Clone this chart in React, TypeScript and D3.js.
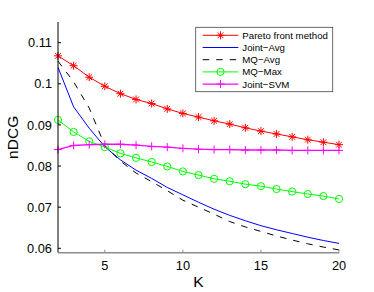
import { useMemo } from 'react';
import * as d3 from 'd3';

const kValues = [2, 3, 4, 5, 6, 7, 8, 9, 10, 11, 12, 13, 14, 15, 16, 17, 18, 19, 20];
const paretoFront = [0.1068, 0.1044, 0.1016, 0.0994, 0.0976, 0.0962, 0.0952, 0.0939, 0.0928, 0.0919, 0.091, 0.0902, 0.0893, 0.0885, 0.0878, 0.0871, 0.0864, 0.0858, 0.0852];
const jointAvg = [0.104, 0.0944, 0.0892, 0.0847, 0.0815, 0.079, 0.077, 0.0748, 0.073, 0.0712, 0.0695, 0.068, 0.0667, 0.0655, 0.0645, 0.0636, 0.0627, 0.0619, 0.0612];
const mqAvg = [0.1055, 0.1005, 0.0941, 0.085, 0.0812, 0.0783, 0.0762, 0.074, 0.0717, 0.07, 0.0683, 0.0665, 0.0652, 0.0641, 0.063, 0.062, 0.0611, 0.0603, 0.0596];
const mqMax = [0.0912, 0.0883, 0.086, 0.0846, 0.0831, 0.082, 0.081, 0.0799, 0.0787, 0.0778, 0.0769, 0.0763, 0.0756, 0.0751, 0.0744, 0.0738, 0.0732, 0.0727, 0.072];
const jointSvm = [0.084, 0.085, 0.0852, 0.0853, 0.0853, 0.0851, 0.0848, 0.0846, 0.0843, 0.0841, 0.084, 0.084, 0.0839, 0.0839, 0.0839, 0.0838, 0.0838, 0.0838, 0.0838];

const xTicks = [5, 10, 15, 20];
const yTicks = [0.06, 0.07, 0.08, 0.09, 0.1, 0.11];
const yTickLabels = ['0.06', '0.07', '0.08', '0.09', '0.1', '0.11'];
const seriesNames = ['Pareto front method', 'Joint\u2212Avg', 'MQ\u2212Avg', 'MQ\u2212Max', 'Joint\u2212SVM'];

const width = 374;
const height = 292;
const font = '"Liberation Sans", Arial, sans-serif';

type Marker = 'star' | 'circle' | 'plus' | 'none';

function MarkerShape({ kind, x, y, color }: { kind: Marker; x: number; y: number; color: string }) {
  if (kind === 'star') {
    const r = 4;
    const d = r * 0.72;
    return (
      <g stroke={color} strokeWidth={1}>
        <line x1={x - r} y1={y} x2={x + r} y2={y} />
        <line x1={x} y1={y - r} x2={x} y2={y + r} />
        <line x1={x - d} y1={y - d} x2={x + d} y2={y + d} />
        <line x1={x - d} y1={y + d} x2={x + d} y2={y - d} />
      </g>
    );
  }
  if (kind === 'circle') {
    return <circle cx={x} cy={y} r={3.6} fill="none" stroke={color} strokeWidth={1} />;
  }
  if (kind === 'plus') {
    return (
      <g stroke={color} strokeWidth={1}>
        <line x1={x - 4} y1={y} x2={x + 4} y2={y} />
        <line x1={x} y1={y - 4} x2={x} y2={y + 4} />
      </g>
    );
  }
  return null;
}

export default function App() {
  const margin = { left: 58, right: 35, top: 22, bottom: 39.3 };
  const x = d3.scaleLinear().domain([2, 20]).range([margin.left, width - margin.right]);
  const y = d3.scaleLinear().domain([0.05893, 0.11503]).range([height - margin.bottom, margin.top]);

  const series = useMemo(
    () => [
      { name: seriesNames[0], values: paretoFront, color: '#ff0000', marker: 'star' as Marker, dash: undefined, w: 1 },
      { name: seriesNames[1], values: jointAvg, color: '#0000ff', marker: 'none' as Marker, dash: undefined, w: 1 },
      { name: seriesNames[2], values: mqAvg, color: '#000000', marker: 'none' as Marker, dash: '6.5 7', w: 1 },
      { name: seriesNames[3], values: mqMax, color: '#00ff00', marker: 'circle' as Marker, dash: undefined, w: 1 },
      { name: seriesNames[4], values: jointSvm, color: '#ff00ff', marker: 'plus' as Marker, dash: undefined, w: 1.3 },
    ],
    [],
  );

  const line = d3
    .line<number>()
    .x((_, i) => x(kValues[i]))
    .y((d) => y(d));

  const x0 = x.range()[0];
  const x1 = x.range()[1];
  const yBottom = y.range()[0];
  const yTop = y.range()[1];

  const legend = { x: 195.7, y: 27.3, w: 137, h: 64.4, rowH: 12.2 };

  return (
    <svg
      width={width}
      height={height}
      style={{ position: 'absolute', left: 0, top: 0, background: '#fff' }}
      fontFamily={font}
    >
      <rect width={width} height={height} fill="#fff" />

      {/* series */}
      {series.map((s) => (
        <g key={s.name}>
          <path d={line(s.values) ?? ''} fill="none" stroke={s.color} strokeWidth={s.w} strokeDasharray={s.dash} />
          {s.values.map((v, i) => (
            <MarkerShape key={i} kind={s.marker} x={x(kValues[i])} y={y(v)} color={s.color} />
          ))}
        </g>
      ))}

      {/* axes */}
      <line x1={x0} y1={yTop} x2={x0} y2={yBottom} stroke="#000" strokeWidth={1} />
      {yTicks.map((t, i) => (
        <g key={t}>
          <line x1={x0} y1={y(t)} x2={x0 + 3} y2={y(t)} stroke="#000" />
          <text x={52} y={y(t) + 4.6} textAnchor="end" fontSize={12.8} fill="#000">
            {yTickLabels[i]}
          </text>
        </g>
      ))}
      <line x1={x0} y1={yBottom} x2={x1} y2={yBottom} stroke="#8c8c8c" strokeWidth={1.6} />
      {xTicks.map((t) => (
        <g key={t}>
          <line x1={x(t)} y1={yBottom} x2={x(t)} y2={yBottom - 3} stroke="#8c8c8c" />
          <text x={x(t)} y={270} textAnchor="middle" fontSize={12.8} fill="#000">
            {t}
          </text>
        </g>
      ))}
      <text x={(x0 + x1) / 2} y={286.7} textAnchor="middle" fontSize={15.5} fill="#000">
        K
      </text>
      <text
        transform={`translate(17.5, ${(yTop + yBottom) / 2}) rotate(-90)`}
        textAnchor="middle"
        fontSize={15.5}
        fill="#000"
      >
        nDCG
      </text>

      {/* legend */}
      <rect x={legend.x} y={legend.y} width={legend.w} height={legend.h} fill="#fff" stroke="#444" strokeWidth={0.8} />
      {series.map((s, i) => {
        const ly = legend.y + 8 + i * legend.rowH;
        return (
          <g key={s.name}>
            <line x1={202.7} y1={ly} x2={238.3} y2={ly} stroke={s.color} strokeWidth={s.w} strokeDasharray={s.dash} />
            <MarkerShape kind={s.marker} x={220.5} y={ly} color={s.color} />
            <text x={242.3} y={ly + 3.4} fontSize={9.7} fill="#000">
              {s.name}
            </text>
          </g>
        );
      })}
    </svg>
  );
}
